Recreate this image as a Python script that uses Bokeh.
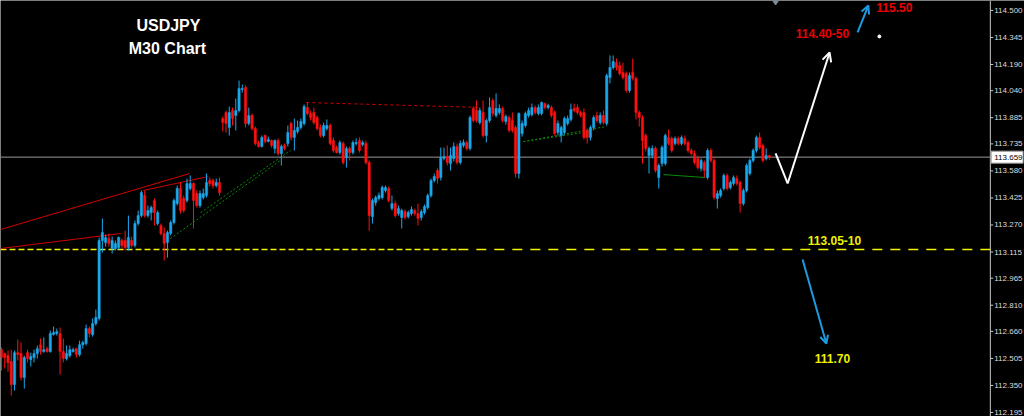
from bokeh.plotting import figure
from bokeh.models import Range1d, Label, Arrow, OpenHead, ColumnDataSource
from bokeh.embed import file_html
from bokeh.resources import INLINE
from bokeh.core.properties import value

# ---------------- data (USDJPY M30 candles) ----------------
opens = [
    112.555, 112.533, 112.521, 112.487, 112.355, 112.538, 112.533, 112.395, 112.538, 112.498,
    112.510, 112.533, 112.584, 112.544, 112.561, 112.544, 112.642, 112.648, 112.648, 112.544,
    112.504, 112.521, 112.544, 112.561, 112.527, 112.584, 112.590, 112.676, 112.642, 112.705, 112.734,
    113.181, 113.169, 113.192, 113.135, 113.135, 113.141, 113.181, 113.181, 113.141, 113.181,
    113.152, 113.278, 113.324, 113.439, 113.324, 113.341, 113.410, 113.278, 113.267, 113.221,
    113.169, 113.221, 113.284, 113.393, 113.479, 113.422, 113.410, 113.479, 113.508, 113.450,
    113.381, 113.427, 113.439, 113.525, 113.525, 113.496, 113.514,
    113.880, 113.915, 113.829, 113.926, 113.898, 113.926, 114.047, 114.058, 113.852, 113.898,
    113.823, 113.743, 113.720, 113.783, 113.749, 113.754, 113.709, 113.754, 113.680, 113.726,
    113.737, 113.852, 113.772, 113.806, 113.829, 113.852, 113.943, 113.909, 113.915, 113.886,
    113.829, 113.783, 113.823, 113.840, 113.754, 113.714, 113.685, 113.737, 113.657, 113.709,
    113.685, 113.737, 113.754, 113.731, 113.737, 113.628, 113.318, 113.399, 113.422, 113.427,
    113.468, 113.479, 113.364, 113.393, 113.336, 113.313, 113.347, 113.318, 113.336, 113.353,
    113.336, 113.313, 113.341, 113.370, 113.439, 113.525, 113.582, 113.542, 113.651, 113.663,
    113.622, 113.651, 113.720, 113.628, 113.726, 113.743, 113.709, 113.938, 113.926, 113.857,
    113.915, 113.783, 113.869, 113.984, 113.898, 113.915, 113.938, 113.863, 113.886, 113.869,
    113.829, 113.565, 113.794, 113.840, 113.898, 113.903, 113.943, 113.909, 113.909, 113.966,
    113.943, 113.943, 113.915, 113.800, 113.783, 113.800, 113.852, 113.875, 113.938, 113.943,
    113.915, 113.915, 113.812, 113.772, 113.829, 113.898, 113.857, 113.898, 113.852, 114.115,
    114.173, 114.201, 114.184, 114.144, 114.138, 114.041, 114.144, 114.110, 113.915, 113.886,
    113.783, 113.668, 113.668, 113.709, 113.542, 113.622, 113.622, 113.772, 113.766, 113.737,
    113.766, 113.737, 113.766, 113.743, 113.697, 113.680, 113.651, 113.594, 113.628, 113.542,
    113.697, 113.640, 113.422, 113.439, 113.479, 113.554, 113.485, 113.508, 113.536, 113.514,
    113.393, 113.468, 113.565, 113.640, 113.697, 113.772, 113.726, 113.651, 113.668,
]
highs = [
    112.567, 112.538, 112.550, 112.555, 112.550, 112.613, 112.596, 112.521, 112.555, 112.538,
    112.555, 112.579, 112.619, 112.625, 112.573, 112.665, 112.688, 112.676, 112.682, 112.619,
    112.579, 112.579, 112.567, 112.567, 112.607, 112.607, 112.699, 112.688, 112.734, 112.785, 113.198,
    113.307, 113.215, 113.221, 113.204, 113.181, 113.204, 113.192, 113.238, 113.324, 113.204,
    113.296, 113.353, 113.468, 113.468, 113.381, 113.381, 113.422, 113.353, 113.278, 113.256,
    113.238, 113.296, 113.422, 113.496, 113.514, 113.439, 113.536, 113.554, 113.514, 113.468,
    113.468, 113.479, 113.565, 113.542, 113.536, 113.536, 113.542,
    113.892, 113.926, 113.949, 113.943, 113.995, 114.098, 114.075, 114.070, 113.943, 113.909,
    113.835, 113.754, 113.783, 113.789, 113.777, 113.760, 113.760, 113.766, 113.731, 113.737,
    113.840, 113.863, 113.880, 113.869, 113.880, 113.961, 113.972, 113.926, 113.943, 113.898,
    113.846, 113.857, 113.875, 113.852, 113.772, 113.726, 113.754, 113.749, 113.720, 113.720,
    113.754, 113.766, 113.772, 113.754, 113.754, 113.640, 113.422, 113.439, 113.456, 113.496,
    113.496, 113.491, 113.439, 113.410, 113.381, 113.364, 113.359, 113.353, 113.376, 113.364,
    113.393, 113.359, 113.387, 113.450, 113.536, 113.565, 113.594, 113.714, 113.714, 113.726,
    113.714, 113.743, 113.737, 113.754, 113.760, 113.754, 113.898, 113.949, 113.984, 113.943,
    113.984, 113.880, 114.001, 113.995, 114.024, 113.961, 113.949, 113.903, 113.898, 113.915,
    113.840, 113.915, 113.869, 113.920, 113.943, 113.966, 113.955, 113.961, 113.978, 113.972,
    113.966, 113.955, 113.926, 113.869, 113.840, 113.892, 113.898, 113.966, 113.966, 113.961,
    113.926, 113.938, 113.823, 113.840, 113.898, 113.920, 113.915, 113.926, 114.138, 114.242,
    114.242, 114.224, 114.207, 114.201, 114.150, 114.144, 114.224, 114.121, 113.926, 113.898,
    113.794, 113.720, 113.726, 113.720, 113.622, 113.726, 113.794, 113.817, 113.777, 113.777,
    113.777, 113.783, 113.783, 113.754, 113.709, 113.697, 113.668, 113.651, 113.640, 113.709,
    113.709, 113.651, 113.468, 113.479, 113.565, 113.565, 113.525, 113.554, 113.554, 113.525,
    113.479, 113.622, 113.651, 113.709, 113.783, 113.800, 113.737, 113.709, 113.672,
]
lows = [
    112.435, 112.447, 112.429, 112.292, 112.321, 112.493, 112.378, 112.332, 112.482, 112.459,
    112.482, 112.504, 112.527, 112.538, 112.538, 112.538, 112.636, 112.636, 112.412, 112.482,
    112.493, 112.510, 112.538, 112.510, 112.516, 112.561, 112.579, 112.625, 112.630, 112.693, 112.722,
    113.112, 113.146, 113.146, 113.106, 113.124, 113.129, 113.135, 113.124, 113.124, 113.141,
    113.141, 113.267, 113.313, 113.313, 113.313, 113.296, 113.267, 113.267, 113.210, 113.066,
    113.083, 113.210, 113.273, 113.381, 113.336, 113.341, 113.399, 113.468, 113.250, 113.370,
    113.370, 113.416, 113.427, 113.491, 113.479, 113.485, 113.439,
    113.806, 113.800, 113.783, 113.840, 113.812, 113.915, 114.029, 113.829, 113.840, 113.812,
    113.726, 113.714, 113.714, 113.737, 113.743, 113.714, 113.680, 113.668, 113.611, 113.697,
    113.720, 113.754, 113.697, 113.794, 113.817, 113.840, 113.898, 113.869, 113.846, 113.812,
    113.772, 113.772, 113.812, 113.726, 113.685, 113.680, 113.674, 113.617, 113.599, 113.640,
    113.674, 113.726, 113.685, 113.720, 113.617, 113.238, 113.278, 113.381, 113.410, 113.416,
    113.456, 113.399, 113.353, 113.313, 113.324, 113.250, 113.301, 113.307, 113.324, 113.324,
    113.267, 113.296, 113.330, 113.359, 113.427, 113.514, 113.508, 113.525, 113.640, 113.611,
    113.582, 113.634, 113.617, 113.617, 113.714, 113.697, 113.697, 113.857, 113.857, 113.846,
    113.772, 113.743, 113.857, 113.892, 113.886, 113.903, 113.857, 113.846, 113.800, 113.800,
    113.542, 113.536, 113.777, 113.829, 113.886, 113.892, 113.903, 113.898, 113.898, 113.932,
    113.932, 113.886, 113.783, 113.783, 113.743, 113.789, 113.840, 113.863, 113.915, 113.903,
    113.886, 113.760, 113.737, 113.754, 113.812, 113.857, 113.846, 113.846, 113.840, 114.081,
    114.161, 114.156, 114.127, 114.104, 114.029, 114.029, 114.098, 113.875, 113.834, 113.622,
    113.691, 113.565, 113.651, 113.571, 113.479, 113.605, 113.611, 113.726, 113.685, 113.726,
    113.726, 113.726, 113.726, 113.685, 113.668, 113.617, 113.588, 113.577, 113.542, 113.531,
    113.628, 113.416, 113.364, 113.427, 113.468, 113.468, 113.473, 113.496, 113.496, 113.341,
    113.381, 113.456, 113.554, 113.628, 113.685, 113.703, 113.628, 113.640, 113.645,
]
closes = [
    112.510, 112.510, 112.482, 112.355, 112.538, 112.527, 112.395, 112.510, 112.504, 112.516,
    112.533, 112.561, 112.544, 112.555, 112.544, 112.648, 112.653, 112.659, 112.544, 112.504,
    112.533, 112.555, 112.555, 112.527, 112.584, 112.596, 112.676, 112.648, 112.705, 112.740, 113.181,
    113.227, 113.198, 113.164, 113.181, 113.164, 113.198, 113.152, 113.141, 113.198, 113.152,
    113.278, 113.324, 113.456, 113.324, 113.353, 113.370, 113.341, 113.341, 113.221, 113.164,
    113.227, 113.284, 113.410, 113.479, 113.353, 113.353, 113.508, 113.508, 113.410, 113.381,
    113.450, 113.450, 113.514, 113.508, 113.496, 113.514, 113.456,
    113.857, 113.852, 113.915, 113.880, 113.926, 114.052, 114.052, 113.852, 113.898, 113.823,
    113.737, 113.720, 113.772, 113.749, 113.760, 113.726, 113.754, 113.680, 113.720, 113.709,
    113.800, 113.772, 113.812, 113.829, 113.863, 113.949, 113.909, 113.886, 113.857, 113.823,
    113.783, 113.840, 113.840, 113.737, 113.697, 113.685, 113.743, 113.628, 113.709, 113.685,
    113.743, 113.743, 113.697, 113.743, 113.628, 113.324, 113.410, 113.427, 113.439, 113.485,
    113.485, 113.410, 113.393, 113.324, 113.364, 113.353, 113.313, 113.341, 113.359, 113.336,
    113.307, 113.347, 113.376, 113.439, 113.525, 113.548, 113.536, 113.657, 113.663, 113.628,
    113.668, 113.720, 113.628, 113.737, 113.743, 113.709, 113.886, 113.869, 113.869, 113.926,
    113.783, 113.869, 113.943, 113.909, 113.938, 113.938, 113.869, 113.892, 113.812, 113.812,
    113.565, 113.909, 113.852, 113.909, 113.926, 113.943, 113.915, 113.943, 113.972, 113.943,
    113.955, 113.898, 113.794, 113.852, 113.829, 113.880, 113.880, 113.932, 113.926, 113.915,
    113.898, 113.772, 113.772, 113.829, 113.886, 113.869, 113.898, 113.857, 114.127, 114.173,
    114.207, 114.173, 114.138, 114.115, 114.041, 114.127, 114.110, 113.915, 113.886, 113.754,
    113.709, 113.709, 113.709, 113.582, 113.611, 113.714, 113.783, 113.737, 113.697, 113.766,
    113.737, 113.772, 113.737, 113.697, 113.680, 113.628, 113.599, 113.640, 113.582, 113.697,
    113.640, 113.427, 113.450, 113.468, 113.554, 113.479, 113.514, 113.542, 113.508, 113.393,
    113.468, 113.611, 113.640, 113.697, 113.772, 113.714, 113.640, 113.668, 113.659,
]

price_ticks = [114.500, 114.345, 114.190, 114.040, 113.885, 113.735, 113.580, 113.425,
               113.270, 113.115, 112.965, 112.810, 112.660, 112.505, 112.350, 112.195]
price_labels = ["114.500", "114.345", "114.190", "114.040", "113.885", "113.735", "113.580",
                "113.425", "113.270", "113.115", "112.965", "112.810", "112.660", "112.505",
                "112.350", "112.195"]
current_price = 113.659
current_label = "113.659"

# annotation geometry (bar index, price)
forecast_path_x = [237.9, 241.6]
forecast_path_y = [113.680, 113.508]
forecast_arrow = (241.6, 113.508, 254.5, 114.259)
up_arrow = (263.1, 114.374, 266.4, 114.528)
down_arrow = (246.2, 113.072, 253.5, 112.590)
support_level = 113.129
trend_red = [((-0.3, 113.244), (57.8, 113.565)),
             ((-0.3, 113.135), (36.6, 113.221)),
             ((43.6, 113.468), (63.6, 113.548))]
trend_red_dotted = ((93.7, 113.972), (147.2, 113.944))
trend_green_dotted = [((51.9, 113.192), (85.7, 113.640)),
                      ((61.2, 113.341), (88.8, 113.697)),
                      ((160.4, 113.748), (185.9, 113.835)),
                      ((160.4, 113.748), (181.0, 113.806))]
trend_green = ((203.4, 113.559), (216.3, 113.542))

# ---------------- figure ----------------
X0, X_AXIS, X1 = -0.31, 303.9, 314.4
Y0, Y1 = 112.172, 114.557

n = min(len(opens), len(highs), len(lows), len(closes))
xs = list(range(n))
BULL = "#1ba8ec"
BEAR = "#ff1010"
colors = [BULL if closes[i] >= opens[i] else BEAR for i in range(n)]
src = ColumnDataSource(dict(
    x=xs, o=opens[:n], h=highs[:n], l=lows[:n], c=closes[:n],
    top=[max(opens[i], closes[i]) for i in range(n)],
    bot=[min(opens[i], closes[i]) for i in range(n)],
    color=colors))

p = figure(width=1024, height=416, x_range=Range1d(X0, X1), y_range=Range1d(Y0, Y1),
           x_axis_location=None, y_axis_location=None,
           output_backend="svg", toolbar_location=None,
           background_fill_color="black", border_fill_color="black",
           min_border_left=0, min_border_top=0, min_border_bottom=0, min_border_right=0)
p.outline_line_color = None
p.grid.visible = False

# price scale on the right (MT4 style)
p.segment(x0=[X_AXIS], y0=[Y0], x1=[X_AXIS], y1=[Y1], line_color="#c8c8c8", line_width=1)
tick_src = ColumnDataSource(dict(y=price_ticks, t=price_labels,
                                 x0=[X_AXIS] * len(price_ticks),
                                 x1=[X_AXIS + 0.9] * len(price_ticks),
                                 xt=[X_AXIS + 1.2] * len(price_ticks)))
p.segment(x0="x0", y0="y", x1="x1", y1="y", source=tick_src, line_color="#c8c8c8")
p.text(x="xt", y="y", text="t", source=tick_src, text_color="#dcdcdc",
       text_font=value("Liberation Sans"), text_font_size="8px",
       text_align="left", text_baseline="middle")

# support (yellow dashed) lines
p.line([X0, 140.4], [support_level, support_level], line_color="#f4f400",
       line_width=1.5, line_dash="6 3")
p.line([140.4, X_AXIS], [support_level, support_level], line_color="#f4f400",
       line_width=1.5, line_dash="10 8")

# trend lines
for (a, b) in trend_red:
    p.line([a[0], b[0]], [a[1], b[1]], line_color="#d00000", line_width=1)
p.line([trend_red_dotted[0][0], trend_red_dotted[1][0]],
       [trend_red_dotted[0][1], trend_red_dotted[1][1]],
       line_color="#d00000", line_width=1, line_dash="3 3")
for (a, b) in trend_green_dotted:
    p.line([a[0], b[0]], [a[1], b[1]], line_color="#0a8a0a", line_width=1, line_dash="2 2")
p.line([trend_green[0][0], trend_green[1][0]], [trend_green[0][1], trend_green[1][1]],
       line_color="#0a8a0a", line_width=1)

# current price line
p.line([X0, X_AXIS], [current_price, current_price], line_color="#9a9a9a", line_width=1)

# candles
p.segment(x0="x", y0="h", x1="x", y1="l", source=src, line_color="color", line_width=1)
p.vbar(x="x", width=0.7, top="top", bottom="bot", source=src,
       fill_color="color", line_color="color", line_width=0.5)

# forecast path
p.line(forecast_path_x, forecast_path_y, line_color="white", line_width=2)
fx0, fy0, fx1, fy1 = forecast_arrow
p.add_layout(Arrow(end=OpenHead(size=9, line_color="white", line_width=2),
                   x_start=fx0, y_start=fy0, x_end=fx1, y_end=fy1,
                   line_color="white", line_width=2))
for (ax0, ay0, ax1, ay1) in (up_arrow, down_arrow):
    p.add_layout(Arrow(end=OpenHead(size=8, line_color="#1d9be2", line_width=2),
                       x_start=ax0, y_start=ay0, x_end=ax1, y_end=ay1,
                       line_color="#1d9be2", line_width=2))

p.scatter([269.8], [114.351], size=3, color="white")
p.scatter([237.9], [Y1], marker="diamond", size=9, color="#7d8a96")

def txt(x, y, s, color, size):
    p.add_layout(Label(x=x, y=y, text=s, text_color=color, text_font="Liberation Sans",
                       text_font_style="bold", text_font_size=size,
                       text_align="center", text_baseline="middle"))

txt(51.3, 114.414, "USDJPY", "white", "16px")
txt(51.0, 114.282, "M30 Chart", "white", "16px")
txt(252.3, 114.368, "114.40-50", "#ee0000", "12px")
txt(274.4, 114.517, "115.50", "#ee0000", "12px")
txt(256.0, 113.181, "113.05-10", "#f0f000", "12px")
txt(255.4, 112.504, "111.70", "#f0f000", "12px")

# current price tag on the price scale
p.rect(x=[X_AXIS + 5.15], y=[current_price], width=32, height=12,
       width_units="screen", height_units="screen",
       fill_color="white", line_color="#9a9a9a", line_width=1)
p.text(x=[X_AXIS + 1.2], y=[current_price], text=[current_label], text_color="black",
       text_font=value("Liberation Sans"), text_font_size="8px",
       text_align="left", text_baseline="middle")

open("out.html", "w").write(file_html(p, INLINE))
